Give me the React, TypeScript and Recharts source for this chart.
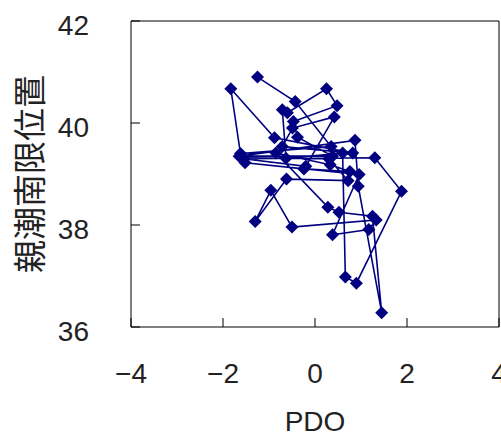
import React from 'react';
import { ScatterChart, Scatter, XAxis, YAxis, ReferenceLine } from 'recharts';

const pdo = [
  -1.25, -0.43, 0.35, -1.62, -1.83, -0.88, 0.82, -0.71, -0.49, 0.42,
  -0.2, -1.55, 1.3, 1.88, 0.9, 0.66, 0.6, -0.63, -0.71, -0.6,
  0.25, 0.48, -0.47, -0.38, 0.38, -1.65, 0.87, 0.94, 1.45, 1.25,
  0.52, 0.28, -0.85, 0.33, 0.76, -0.24, -1.52, 0.96, 0.38, 1.17,
  1.33, -0.5, -0.96, -1.3, -0.62, 0.72, 0.3, -1.58,
];
const latitude = [
  40.9, 40.42, 39.54, 39.4, 40.67, 39.71, 39.41, 39.54, 39.9, 40.12,
  39.15, 39.3, 39.32, 38.66, 36.86, 36.98, 39.41, 39.31, 40.26, 40.2,
  40.67, 40.34, 40.03, 39.72, 39.35, 39.35, 39.66, 38.76, 36.28, 38.17,
  38.25, 38.35, 39.41, 39.18, 39.05, 39.1, 39.22, 38.99, 37.81, 37.91,
  38.1, 37.96, 38.68, 38.07, 38.9, 38.87, 39.3, 39.32,
];
const xTicks = [-4, -2, 0, 2, 4];
const yTicks = [36, 38, 40, 42];
const xDomain = [-4, 4];
const yDomain = [36, 42];
const xTitle = 'PDO';
const yTitle = '親潮南限位置';

const data = pdo.map((x, i) => ({ x, y: latitude[i] }));

const NAVY = '#000080';
const FONT = '"Liberation Sans", Arial, sans-serif';
const CJK = '"Noto Sans CJK JP", sans-serif';
const TEXT = '#222';

const fmt = (v: number) => String(v).replace('-', '\u2212');

function Diamond(props: any) {
  const { cx, cy } = props;
  const r = 6.5;
  return (
    <polygon
      points={`${cx},${cy - r} ${cx + r},${cy} ${cx},${cy + r} ${cx - r},${cy}`}
      fill={NAVY}
    />
  );
}

function XTick(props: any) {
  const { x, y, payload } = props;
  return (
    <text x={x} y={y} textAnchor="middle" dominantBaseline="central" fontSize={28} fontFamily={FONT} fill={TEXT}>
      {fmt(payload.value)}
    </text>
  );
}

function YTick(props: any) {
  const { x, y, payload } = props;
  return (
    <text x={x} y={y + 4} textAnchor="end" dominantBaseline="central" fontSize={28} fontFamily={FONT} fill={TEXT}>
      {fmt(payload.value)}
    </text>
  );
}

export default function App() {
  return (
    <div style={{ position: 'absolute', left: 0, top: 0, background: '#fff' }}>
      <ScatterChart width={501} height={435} margin={{ top: 21, right: 2, bottom: 0, left: 0 }}>
        <XAxis
          xAxisId="b"
          type="number"
          dataKey="x"
          domain={xDomain}
          ticks={xTicks}
          height={108}
          tickSize={-9}
          tickMargin={55}
          tick={XTick}
          stroke="#000"
          interval={0}
          label={{
            content: (p: any) => {
              const vb = p.viewBox;
              return (
                <text x={vb.x + vb.width / 2} y={vb.y + 94} textAnchor="middle" dominantBaseline="central" fontSize={28} fontFamily={FONT} fill={TEXT}>
                  {xTitle}
                </text>
              );
            },
          }}
        />
        <YAxis
          yAxisId="l"
          type="number"
          dataKey="y"
          domain={yDomain}
          ticks={yTicks}
          width={131}
          tickSize={-9}
          tickMargin={51}
          tick={YTick}
          stroke="#000"
          interval={0}
          label={{
            content: (p: any) => {
              const vb = p.viewBox;
              const cx = 28;
              const cy = vb.y + vb.height / 2;
              return (
                <text x={cx} y={cy} transform={`rotate(-90 ${cx} ${cy})`} textAnchor="middle" dominantBaseline="central" fontSize={33} fontFamily={CJK} fill={TEXT}>
                  {yTitle}
                </text>
              );
            },
          }}
        />
        <ReferenceLine xAxisId="b" yAxisId="l" y={yDomain[1]} stroke="#000" strokeWidth={1} />
        <ReferenceLine xAxisId="b" yAxisId="l" x={xDomain[1]} stroke="#000" strokeWidth={1} />
        <Scatter
          xAxisId="b"
          yAxisId="l"
          data={data}
          fill={NAVY}
          line={{ stroke: NAVY, strokeWidth: 1.6 }}
          shape={Diamond}
          isAnimationActive={false}
        />
      </ScatterChart>
    </div>
  );
}
